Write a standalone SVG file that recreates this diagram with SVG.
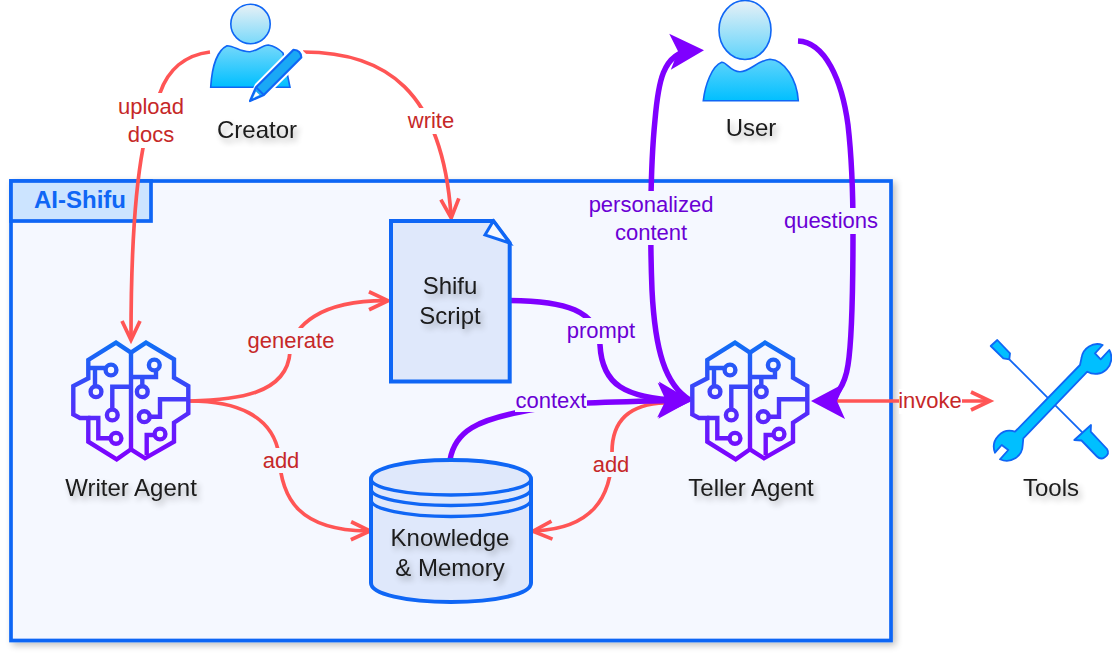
<svg xmlns="http://www.w3.org/2000/svg" xmlns:xlink="http://www.w3.org/1999/xlink" width="1112" height="658" viewBox="0 0 1112 658">
<style>
text{font-family:"Liberation Sans",Arial,sans-serif;text-anchor:middle}
.n{font-size:24px;fill:#1a1a1a;filter:url(#ts)}
.lr{font-size:22px;fill:#c62828}
.lp{font-size:22px;fill:#6a00d5}
.r{fill:none;stroke:#ff5555;stroke-width:3.700}
.p{fill:none;stroke:#7f00ff;stroke-width:5.500}
.blue{stroke:#0f66f5;stroke-width:4;fill:#dfe8fb}
.ic{stroke:#0f66f5;stroke-width:1.600}
.bg{fill:#f5f8ff}
.w{fill:#fff}
</style>
<defs>
<filter id="ts" x="-20%" y="-30%" width="150%" height="180%"><feGaussianBlur in="SourceAlpha" stdDeviation="3"/><feOffset dx="3" dy="4"/><feComponentTransfer><feFuncA type="linear" slope=".3"/></feComponentTransfer><feMerge><feMergeNode/><feMergeNode in="SourceGraphic"/></feMerge></filter>
<filter id="bs" x="-5%" y="-5%" width="110%" height="110%"><feGaussianBlur in="SourceAlpha" stdDeviation="3.500"/><feOffset dx="3" dy="3"/><feComponentTransfer><feFuncA type="linear" slope=".25"/></feComponentTransfer><feMerge><feMergeNode/><feMergeNode in="SourceGraphic"/></feMerge></filter>
<linearGradient id="skyU" gradientUnits="userSpaceOnUse" x1="0" y1="0" x2="0" y2="101"><stop offset="0" stop-color="#e9f1f6"/><stop offset="1" stop-color="#00bfff"/></linearGradient>
<linearGradient id="skyC" gradientUnits="userSpaceOnUse" x1="0" y1="4" x2="0" y2="87"><stop offset="0" stop-color="#e9f1f6"/><stop offset="1" stop-color="#00bfff"/></linearGradient>
<linearGradient id="br" gradientUnits="userSpaceOnUse" x1="0" y1="342" x2="0" y2="460"><stop offset="0" stop-color="#0f70f5"/><stop offset="1" stop-color="#8000ff"/></linearGradient>
<g id="brain" fill="none" stroke="url(#br)" stroke-width="4.400" stroke-linejoin="miter">
<path d="M116 342.700L131 352.700L146 342.700L174 359.300V377.700L188.300 386V413.300L174 422.700V441.700L145 458.300L131 449.300L116.700 459.300L88.300 441.700V418H80L73.300 414.500V386L88.300 378.300V360Z"/>
<path d="M131 352.700V449.300"/>
<circle cx="111" cy="370" r="5.400"/><path d="M88.300 368H105.600M95 368V386"/>
<circle cx="96" cy="391.700" r="5.400"/>
<circle cx="112.300" cy="415" r="5.400"/><path d="M112.300 409.600V386.700H131"/>
<circle cx="116" cy="438.300" r="5.400"/><path d="M110.600 438.300H98.300V418H88"/>
<circle cx="154.300" cy="365" r="5.400"/><path d="M156 370V377H131"/>
<circle cx="142.300" cy="391.700" r="5.400"/><path d="M142.300 386.300V377"/>
<circle cx="144.300" cy="416.700" r="5.400"/><path d="M149.700 416.700H160V399.300H188"/>
<circle cx="160" cy="434" r="5.400"/><path d="M154.600 435H146.700V455"/>
</g>
<marker id="ao" markerUnits="userSpaceOnUse" markerWidth="30" markerHeight="30" refX="20" refY="15" orient="auto"><path d="M4 6L23 15L4 24" fill="none" stroke="#ff5555" stroke-width="3.700" stroke-linejoin="miter"/></marker>
<marker id="aos" markerUnits="userSpaceOnUse" markerWidth="30" markerHeight="30" refX="10" refY="15" orient="auto"><path d="M26 6L7 15L26 24" fill="none" stroke="#ff5555" stroke-width="3.700"/></marker>
<marker id="ap" markerUnits="userSpaceOnUse" markerWidth="44" markerHeight="44" refX="24" refY="22" orient="auto"><path d="M2 4L36 22L2 40L10 22Z" fill="#7f00ff"/></marker>
</defs>
<rect width="1112" height="658" fill="#fff"/>
<g id="frame"><rect x="11" y="181" width="880" height="459.500" fill="#f5f8ff" stroke="#0f66f5" stroke-width="3.700" filter="url(#bs)"/>
<rect x="11" y="181" width="140" height="40" fill="#cce4ff" stroke="#0f66f5" stroke-width="3.700"/>
<text x="80" y="208" font-size="24" font-weight="bold" style="fill:#0f66f5">AI-Shifu</text></g>
<g id="connectors">
<path class="r" d="M210 52C185 55 168 70 160 93C150 115 146 135 143 148C137 180 131 240 131 337" marker-end="url(#ao)"/>
<path class="r" d="M303 52C385 52 442 90 451 215" marker-end="url(#ao)"/>
<path class="r" d="M190 401C235 400 287 395 290 352C293 325 320 301 385 300.700" marker-end="url(#ao)"/>
<path class="r" d="M190 401C235 401 273 415 279 455C281 500 300 530 367 531" marker-end="url(#ao)"/>
<path class="r" d="M536 531C590 528 612 500 612 452C612 420 630 404 665 403" marker-start="url(#aos)"/>
<path class="r" d="M830 401H987" marker-end="url(#ao)"/>
<path class="p" d="M510 300.500C565 301 597 310 600 345C602 385 625 398 680 400.500" marker-end="url(#ap)"/>
<path class="p" d="M450 460C455 430 480 420 520 412C540 408 560 404 587 403C620 401.500 650 401 680 400.500" marker-end="url(#ap)"/>
<path class="p" d="M690 400C665 385 655 350 652 290C650 240 650 170 655 120C658 85 662 52 692 50.700" marker-end="url(#ap)"/>
<path class="p" d="M798 41C825 42 842 80 848 125C852 160 853 190 853 230C853 290 852 340 848 365C845 385 835 401 823 401" marker-end="url(#ap)"/>
</g>
<g id="edge-labels">
<rect class="w" x="118" y="93" width="66" height="55"/><text class="lr" x="151" y="114">upload</text><text class="lr" x="151" y="142">docs</text>
<rect class="w" x="407" y="108" width="48" height="26"/><text class="lr" x="431" y="128">write</text>
<rect class="bg" x="247" y="328" width="88" height="26"/><text class="lr" x="291" y="348">generate</text>
<rect class="bg" x="262" y="448" width="38" height="25"/><text class="lr" x="281" y="468">add</text>
<rect class="bg" x="592" y="452" width="38" height="25"/><text class="lr" x="611" y="472">add</text>
<rect class="w" x="899" y="389" width="63" height="25"/><text class="lr" x="930" y="408">invoke</text>
<rect class="bg" x="566" y="318" width="70" height="26"/><text class="lp" x="601" y="338">prompt</text>
<rect class="bg" x="515" y="388" width="72" height="24"/><text class="lp" x="551" y="408">context</text>
<rect class="bg" x="588" y="191" width="126" height="54"/><text class="lp" x="651" y="212">personalized</text><text class="lp" x="651" y="240">content</text>
<rect class="bg" x="784" y="208" width="94" height="26"/><text class="lp" x="831" y="228">questions</text>
</g>
<g id="creator">
<circle cx="250.500" cy="24" r="19.700" class="ic" style="fill:url(#skyC)"/>
<path d="M210.700 87.300C212 65 218 50 227 45.700C235 46 240 52 250 51.700C258 51 262 45 268.300 45C274 46 280 50 283 53L290 87.300Z" class="ic" style="fill:url(#skyC)"/>
<g transform="translate(249.300 101.700) rotate(-45)"><path d="M0 0L17 -6.500H72V6.500H17Z" fill="#fff" stroke="#fff" stroke-width="4"/><path d="M1 0L15 -5.500H68Q73 0 68 5.500H15Z" fill="#1aa8f5" stroke="#0f66f5" stroke-width="2.200" stroke-linejoin="round"/><path d="M15 -5.500V5.500" stroke="#0f66f5" stroke-width="1.800"/><path d="M5 0L12 -2.500V2.500Z" fill="#fff"/></g>
<text class="n" x="257" y="138">Creator</text></g>
<g id="user">
<ellipse cx="745" cy="30" rx="26" ry="29.500" class="ic" style="fill:url(#skyU)"/>
<path d="M703.300 100.700C705 85 712 66 721.700 62.300C727 62 730 71.700 740 71.700C750 71.700 758 60 770 59.300C785 60 797 80 798.300 100.700Z" class="ic" style="fill:url(#skyU)"/>
<text class="n" x="751" y="136">User</text></g>
<g id="writer-agent"><use xlink:href="#brain" href="#brain"/><text class="n" x="131" y="496">Writer Agent</text></g>
<g id="teller-agent"><use xlink:href="#brain" href="#brain" x="619"/><text class="n" x="751" y="496">Teller Agent</text></g>
<g id="tools">
<path d="M990.700 346L997.300 340L1010 353.300L1009.300 359.300L1003.300 358.300Z" fill="#00bfff" stroke="#0f66f5" stroke-width="1.800" stroke-linejoin="round"/>
<path d="M1009.300 359.300L1083.300 433.300" stroke="#0f66f5" stroke-width="1.800"/>
<path d="M1074.300 440L1091 425L1090.700 431.700L1107 449Q1110 454 1104.500 457.500Q1100.500 460 1097 456.500L1081.500 440.500Z" fill="#00bfff" stroke="#0f66f5" stroke-width="1.800" stroke-linejoin="round"/>
<path d="M1080 365L1081.500 358A16 16 0 0 1 1102.700 345L1095 353.300L1100.700 359.300L1109.300 350A16 16 0 0 1 1087.300 371.700L1023.300 438.300L1022.700 445A16 16 0 0 1 1000 459.300L1008.300 450L1001.700 445L995 452.700A16 16 0 0 1 1015 431.700Z" fill="#00bfff" stroke="#0f66f5" stroke-width="1.800" stroke-linejoin="round"/>
<text class="n" x="1051" y="496">Tools</text></g>
<g id="shifu-script">
<path d="M391 221H493.300L509.700 243V381.500H391Z" class="blue"/>
<path d="M493.300 221L485 235L509.700 243Z" fill="#f5f8ff" stroke="#0f66f5" stroke-width="3"/>
<text class="n" x="450" y="294">Shifu</text><text class="n" x="450" y="324">Script</text></g>
<g id="knowledge-memory">
<path d="M371 479C371 468 406 460 451 460C496 460 531 468 531 479V583C531 594 496 602 451 602C406 602 371 594 371 583Z" class="blue"/>
<path d="M371 479C371 488 406 495 451 495C496 495 531 488 531 479M371 489C371 498 406 505.500 451 505.500C496 505.500 531 498 531 489M371 500C371 509 406 516.500 451 516.500C496 516.500 531 509 531 500" fill="none" stroke="#0f66f5" stroke-width="3.500"/>
<text class="n" x="450" y="546">Knowledge</text><text class="n" x="450" y="576">&amp; Memory</text></g>
</svg>
